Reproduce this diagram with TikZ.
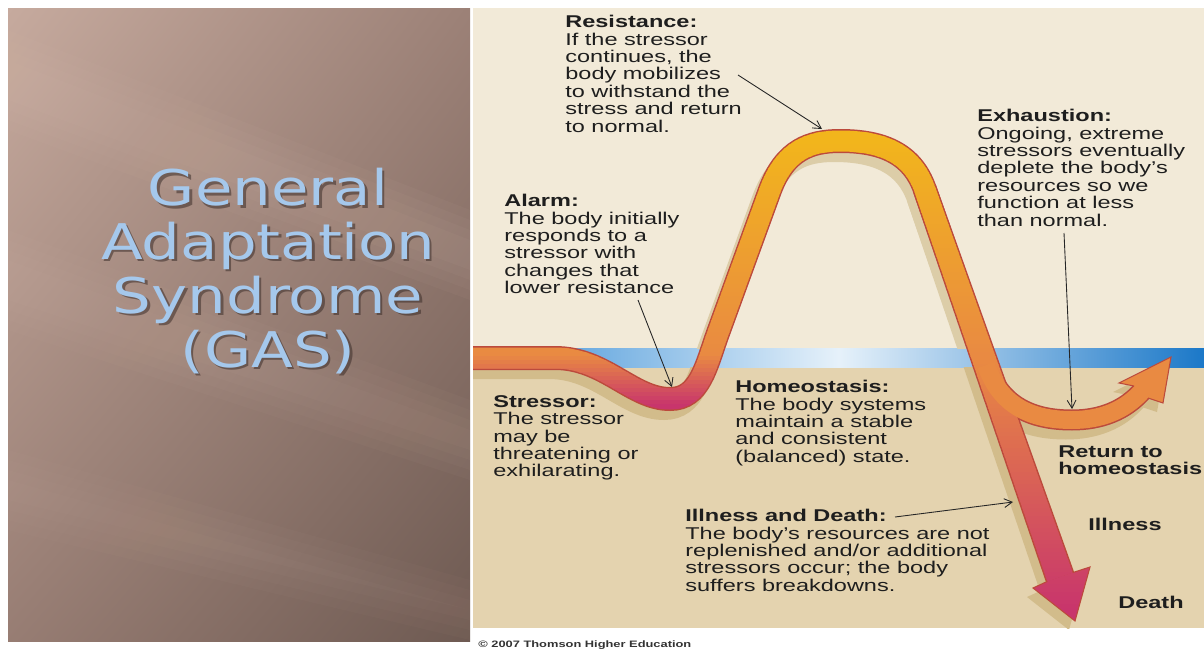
\documentclass[tikz,border=0pt]{standalone}
\usepackage{fontspec}
\setmainfont{Liberation Sans}[FakeStretch=1.38]
\newfontfamily\titlefont{DejaVu Sans}[FakeStretch=1.24]
\usetikzlibrary{arrows.meta, shadings}

\definecolor{slidelight}{HTML}{C6AA9E}
\definecolor{slidemid}{HTML}{9C8177}
\definecolor{slidedark}{HTML}{6E5A52}
\definecolor{slideglow}{HTML}{D8BCAE}
\definecolor{titleblue}{HTML}{A5C8EC}
\definecolor{titleshade}{HTML}{3C2E2A}
\definecolor{gascream}{HTML}{F2EAD8}
\definecolor{gastan}{HTML}{E4D3AF}
\definecolor{gasblue}{HTML}{3A8FD6}
\definecolor{gasbluedark}{HTML}{1B78C8}
\definecolor{gasbluelight}{HTML}{E6F1FA}
\definecolor{gasyellow}{HTML}{F2B51C}
\definecolor{gasorange}{HTML}{E98A42}
\definecolor{gasmagenta}{HTML}{C8356C}
\definecolor{gasline}{HTML}{BC4A3C}
\definecolor{shadowup}{HTML}{DCCDA8}
\definecolor{shadowlow}{HTML}{D2BC8B}
\definecolor{textdark}{HTML}{1E1E1E}

% curve outlines, in pixel units of the picture
\newcommand{\gascurve}{(470,358) -- (555,358) .. controls (605,358) and (632,399) .. (670,399) .. controls (700,399) and (706,366) .. (718,333) -- (770,190) .. controls (785,150) and (810,141) .. (840,141) .. controls (880,141) and (912,152) .. (925,190) -- (1060,577)}
\newcommand{\mainshaft}{(915.1,193.5) -- (1047.3,581.4) -- (1072.7,572.6) -- (934.9,186.5) -- cycle}
\newcommand{\gasbranch}{(986,365) .. controls (1000,405) and (1030,420) .. (1072,420) .. controls (1100,420) and (1125,411) .. (1143,390)}
\newcommand{\mainhead}{(1047.3,581.4) -- (1033,588) -- (1075,621) -- (1090,567) -- (1072.7,572.6) -- cycle}
\newcommand{\branchhead}{(1134,386) -- (1119,383) -- (1171,357) -- (1163,403) -- (1148,398) -- cycle}

\begin{document}
\begin{tikzpicture}[x=0.02cm, y=-0.02cm,
    label/.style={anchor=north west, inner sep=0pt, align=left, text=textdark,
        font=\fontsize{9.7}{9.9}\selectfont},
    endlabel/.style={label, font=\fontsize{9.7}{9.9}\selectfont\bfseries},
    leader/.style={draw=black!85, line width=0.5pt, -{Straight Barb[length=4.5pt, width=5pt]}},
    headline/.style={draw=gasline, line width=0.6pt, line join=miter},
    shadowstroke/.style={line width=0.48cm},
    curveline/.style={line width=0.48cm, draw=gasline},
    curvebody/.style={line width=0.42cm},
    shaftline/.style={line width=0.06cm, draw=gasline, fill=gasline},
    branchline/.style={line width=0.42cm, draw=gasline},
    branchbody/.style={line width=0.36cm, draw=gasorange}]

    \useasboundingbox (0,0) rectangle (1204,649);
    \fill[white] (0,0) rectangle (1204,649);

    % Title slide
    \shade[upper left=slidelight, upper right=slidemid, lower left=slidemid!90!slidedark, lower right=slidedark] (8,8) rectangle (470,641);
    \foreach \w in {0,10,20,30} {
        \fill[slideglow, opacity=0.05] (8,30+\w) -- (470,210+\w) -- (470,300-\w) -- (8,130-\w) -- cycle;
        \fill[slideglow, opacity=0.04] (8,230+\w) -- (470,400+\w) -- (470,480-\w) -- (8,330-\w) -- cycle;
        \fill[slideglow, opacity=0.03] (8,450+\w) -- (470,580+\w) -- (470,640-\w) -- (8,530-\w) -- cycle;
    }
    \node[anchor=north, inner sep=0pt, align=center, text=titleshade, opacity=0.55,
        font=\titlefont\fontsize{28}{30.6}\selectfont] (titleShadow) at (270.5,170.5) {General\\Adaptation\\Syndrome\\(GAS)};
    \node[anchor=north, inner sep=0pt, align=center, text=titleblue,
        font=\titlefont\fontsize{28}{30.6}\selectfont] (title) at (268,168) {General\\Adaptation\\Syndrome\\(GAS)};

    % Diagram background and homeostasis band
    \fill[gascream] (473,8) rectangle (1204,358);
    \fill[gastan] (473,358) rectangle (1204,628);
    \shade[left color=gasblue, right color=gasbluedark, middle color=gasbluelight] (473,348) rectangle (1204,367);

    \begin{scope}
        \clip (473,8) rectangle (1204,628);

        % Drop shadow
        \begin{scope}
            \clip (473,8) rectangle (1204,348);
            \begin{scope}[shift={(-6,9)}]
                \draw[shadowstroke, draw=shadowup] \gascurve;
                \filldraw[shaftline, draw=shadowup, fill=shadowup] \mainshaft;
            \end{scope}
        \end{scope}
        \begin{scope}
            \clip (473,367) rectangle (1204,628);
            \begin{scope}[shift={(-6,9)}]
                \draw[shadowstroke, draw=shadowlow] \gascurve;
                \filldraw[shaftline, draw=shadowlow, fill=shadowlow] \mainshaft;
                \draw[branchline, draw=shadowlow] \gasbranch;
                \fill[shadowlow] \mainhead;
                \fill[shadowlow] \branchhead;
            \end{scope}
        \end{scope}

        % Outlines
        \draw[curveline] \gascurve;
        \filldraw[shaftline] \mainshaft;
        \draw[branchline] \gasbranch;

        % Main curve, coloured by height in thin strips
        \foreach \ys in {124,128,...,628} {
            \pgfmathsetmacro{\ym}{\ys+2}
            \pgfmathsetmacro{\pa}{max(0,min(100,(\ym-140)/215*100))}
            \pgfmathsetmacro{\pl}{max(0,min(100,(\ym-355)/50*100))}
            \pgfmathsetmacro{\pr}{max(0,min(100,(\ym-360)/250*100))}
            \colorlet{stripbase}{gasorange!\pa!gasyellow}
            \colorlet{stripL}{gasmagenta!\pl!stripbase}
            \colorlet{stripR}{gasmagenta!\pr!stripbase}
            \begin{scope}
                \clip (470,\ys) rectangle (795,\ys+4.5);
                \draw[curvebody, draw=stripL] \gascurve;
            \end{scope}
            \begin{scope}
                \clip (795,\ys) rectangle (1204,\ys+4.5);
                \draw[curvebody, draw=stripR] \gascurve;
                \fill[stripR] \mainshaft;
                \fill[stripR] \mainhead;
            \end{scope}
        }

        % Return branch
        \draw[branchbody] \gasbranch;
        \fill[gasorange] \branchhead;

        % Arrowhead edges
        \draw[headline] (1047.3,581.4) -- (1033,588) -- (1075,621) -- (1090,567) -- (1072.7,572.6);
        \draw[headline] (1134,386) -- (1119,383) -- (1171,357) -- (1163,403) -- (1148,398);
    \end{scope}

    % Stage texts
    \node[label] (resistText) at (565,15) {\textbf{Resistance:}\\If the stressor\\continues, the\\body mobilizes\\to withstand the\\stress and return\\to normal.};
    \node[label] (alarmText) at (504,194) {\textbf{Alarm:}\\The body initially\\responds to a\\stressor with\\changes that\\lower resistance};
    \node[label] (exhaustText) at (977,109) {\textbf{Exhaustion:}\\Ongoing, extreme\\stressors eventually\\deplete the body’s\\resources so we\\function at less\\than normal.};
    \node[label] (stressorText) at (493,395) {\textbf{Stressor:}\\The stressor\\may be\\threatening or\\exhilarating.};
    \node[label] (homeoText) at (735,380) {\textbf{Homeostasis:}\\The body systems\\maintain a stable\\and consistent\\(balanced) state.};
    \node[label] (illnessText) at (685,509) {\textbf{Illness and Death:}\\The body’s resources are not\\replenished and/or additional\\stressors occur; the body\\suffers breakdowns.};

    % Outcome labels
    \node[endlabel] (returnLbl) at (1058,445) {Return to\\homeostasis};
    \node[endlabel] (illnessLbl) at (1088,518) {Illness};
    \node[endlabel] (deathLbl) at (1118,596) {Death};

    % Leader lines
    \coordinate (resistFrom) at (738,75);
    \coordinate (resistTip) at (822,129);
    \coordinate (alarmFrom) at (638,300);
    \coordinate (alarmTip) at (672,387);
    \coordinate (exhaustFrom) at (1064,233);
    \coordinate (exhaustTip) at (1072,409);
    \coordinate (illnessFrom) at (895,517);
    \coordinate (illnessTip) at (1013,502);
    \draw[leader] (resistFrom) -- (resistTip);
    \draw[leader] (alarmFrom) -- (alarmTip);
    \draw[leader] (exhaustFrom) -- (exhaustTip);
    \draw[leader] (illnessFrom) -- (illnessTip);

    \node[anchor=base west, inner sep=0pt, text=black!80, font=\fontsize{5.3}{6}\selectfont\bfseries] (copyText) at (478,647) {© 2007 Thomson Higher Education};
\end{tikzpicture}
\end{document}
